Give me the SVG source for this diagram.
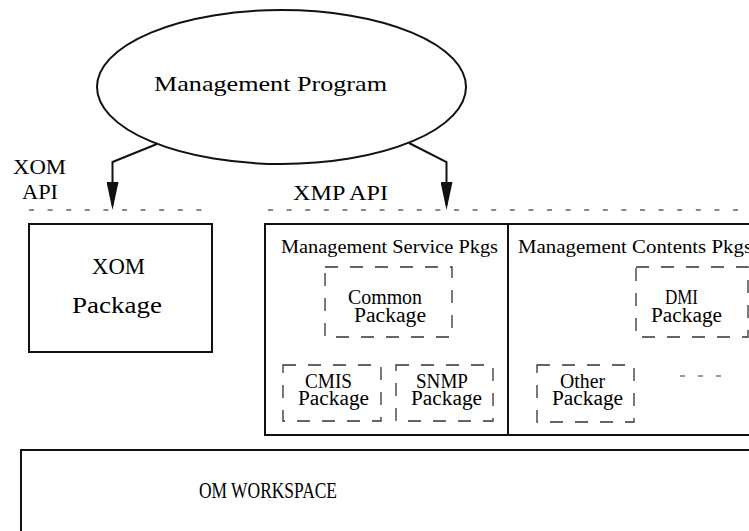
<svg xmlns="http://www.w3.org/2000/svg" width="749" height="531" viewBox="0 0 749 531" font-family="'Liberation Serif','Times New Roman',serif">
<style>
text{font-family:"Liberation Serif","Times New Roman",serif;fill:#000;}
.t22{font-size:22px;}
.t24{font-size:24px;}
.t19{font-size:19px;}
.t20{font-size:20px;}
.box{fill:none;stroke:#111;stroke-width:2;}
.dbox{fill:none;stroke:#333;stroke-width:1.3;stroke-dasharray:13 12;}
.api{fill:none;stroke:#111;stroke-width:1;stroke-dasharray:5 13.6;}
.conn{fill:none;stroke:#111;stroke-width:2;marker-end:url(#arrow);}
</style>
<defs>
<marker id="arrow" viewBox="0 0 28 12" refX="23" refY="6" markerWidth="28" markerHeight="12" markerUnits="userSpaceOnUse" orient="auto">
<path d="M0,0 L28,6 L0,12 Z" fill="#111"/>
</marker>
</defs>

<g id="api-lines">
<line class="api" x1="29" y1="210" x2="202" y2="210"/>
<line class="api" x1="268" y1="210" x2="749" y2="210"/>
<text class="t22" x="13" y="174" textLength="53" lengthAdjust="spacingAndGlyphs">XOM</text>
<text class="t22" x="22" y="199" textLength="36" lengthAdjust="spacingAndGlyphs">API</text>
<text class="t22" x="293" y="200" textLength="95" lengthAdjust="spacingAndGlyphs">XMP API</text>
</g>

<g id="management-program">
<ellipse class="box" cx="281.5" cy="87" rx="184.5" ry="77"/>
<text class="t22" x="154" y="91" textLength="233" lengthAdjust="spacingAndGlyphs">Management Program</text>
</g>

<g id="connectors">
<polyline class="conn" points="157,144 112.5,162 112.5,205"/>
<polyline class="conn" points="409,143 446.5,162 446.5,205"/>
</g>

<g id="xom-package">
<rect class="box" x="29" y="224" width="183" height="128"/>
<text class="t24" x="92" y="274" textLength="53" lengthAdjust="spacingAndGlyphs">XOM</text>
<text class="t24" x="72" y="313" textLength="90" lengthAdjust="spacingAndGlyphs">Package</text>
</g>

<g id="xmp-packages">
<rect class="box" x="265" y="224" width="500" height="211"/>
<line class="box" x1="508" y1="224" x2="508" y2="435"/>
<text class="t19" x="281" y="253" textLength="217" lengthAdjust="spacingAndGlyphs">Management Service Pkgs</text>
<text class="t19" x="518" y="253" textLength="234" lengthAdjust="spacingAndGlyphs">Management Contents Pkgs</text>
</g>

<g id="common-package">
<rect class="dbox" x="325" y="267" width="127" height="70"/>
<text class="t20" x="348" y="304" textLength="74" lengthAdjust="spacingAndGlyphs">Common</text>
<text class="t20" x="354" y="322" textLength="72" lengthAdjust="spacingAndGlyphs">Package</text>
</g>

<g id="cmis-package">
<rect class="dbox" x="283" y="365" width="98" height="56"/>
<text class="t20" x="305" y="388" textLength="47" lengthAdjust="spacingAndGlyphs">CMIS</text>
<text class="t20" x="298" y="405" textLength="71" lengthAdjust="spacingAndGlyphs">Package</text>
</g>

<g id="snmp-package">
<rect class="dbox" x="396" y="365" width="97" height="56"/>
<text class="t20" x="416" y="388" textLength="52" lengthAdjust="spacingAndGlyphs">SNMP</text>
<text class="t20" x="411" y="405" textLength="71" lengthAdjust="spacingAndGlyphs">Package</text>
</g>

<g id="dmi-package">
<rect class="dbox" x="636" y="267" width="112" height="70"/>
<text class="t20" x="665" y="304" textLength="33" lengthAdjust="spacingAndGlyphs">DMI</text>
<text class="t20" x="651" y="322" textLength="71" lengthAdjust="spacingAndGlyphs">Package</text>
</g>

<g id="other-package">
<rect class="dbox" x="537" y="365" width="97" height="57"/>
<text class="t20" x="560" y="388" textLength="45" lengthAdjust="spacingAndGlyphs">Other</text>
<text class="t20" x="552" y="405" textLength="71" lengthAdjust="spacingAndGlyphs">Package</text>
</g>

<g id="more-packages">
<line x1="680" y1="376" x2="722" y2="376" stroke="#333" stroke-width="1" stroke-dasharray="5 13"/>
</g>

<g id="om-workspace">
<rect class="box" x="21" y="450" width="740" height="100"/>
<text class="t24" x="199" y="498" textLength="138" lengthAdjust="spacingAndGlyphs">OM WORKSPACE</text>
</g>
</svg>
